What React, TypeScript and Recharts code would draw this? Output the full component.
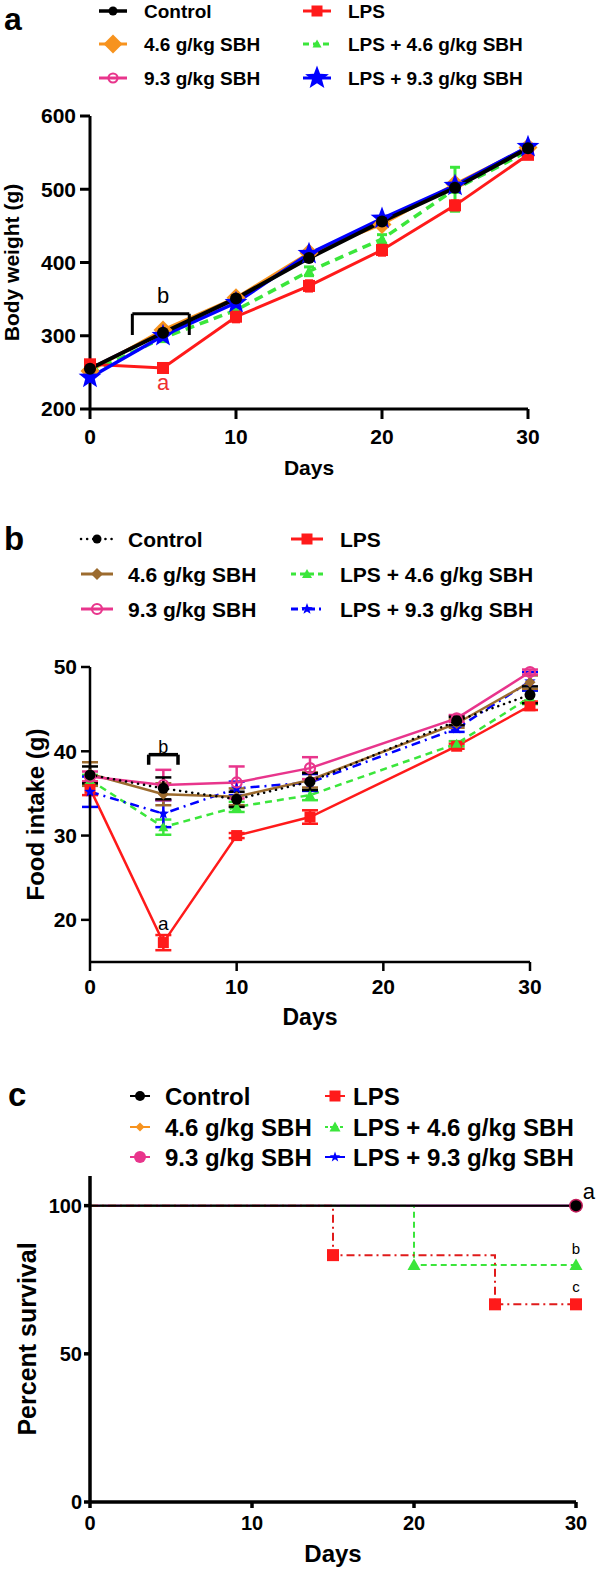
import React from "react";
import { LineChart, Line, XAxis, YAxis, ErrorBar, ReferenceLine, ReferenceDot } from "recharts";

const FONT = "'Liberation Sans', Arial, Helvetica, sans-serif";

// ---- panel a: body weight (g) ----
const weightDays = [0, 5, 10, 15, 20, 25, 30];
const bwControl = [255, 304, 351, 406, 456, 502, 556];
const bwLps = [261, 256, 326, 368, 417, 478, 547];
const bwSbh46 = [252, 308, 352, 413, 452, 507, 557];
const bwSbh93 = [255, 305, 350, 410, 455, 505, 558];
const bwLpsSbh46 = [250, 297, 335, 388, 432, 500, 552];
const bwLpsSbh93 = [243, 300, 345, 412, 460, 505, 558];
const bwErrLps = [4, 4, 7, 7, 7, 6, 4];
const bwErrLpsSbh46 = [4, 5, 5, 6, 6, 30, 5];
const weightTicks = [200, 300, 400, 500, 600];

// ---- panel b: food intake (g) ----
const intakeDays = [0, 5, 10, 15, 25, 30];
const fiControl = [37.2, 35.6, 34.3, 36.4, 43.6, 46.7];
const fiLps = [35.6, 17.3, 30.0, 32.2, 40.6, 45.4];
const fiSbh46 = [37.3, 34.9, 34.6, 36.6, 43.3, 48.2];
const fiSbh93 = [37.0, 36.0, 36.3, 38.0, 43.9, 49.4];
const fiLpsSbh46 = [36.6, 31.0, 33.4, 34.8, 40.9, 46.4];
const fiLpsSbh93 = [35.2, 32.6, 35.6, 36.3, 42.7, 48.3];
const fiErrControl = [1.0, 1.3, 0.9, 1.0, 0.5, 1.0];
const fiErrLps = [0.8, 0.9, 0.3, 0.8, 0.3, 0.5];
const fiErrSbh46 = [1.4, 1.3, 1.0, 0.9, 0.5, 0.8];
const fiErrSbh93 = [0.6, 1.8, 1.9, 1.3, 0.4, 0.3];
const fiErrLpsSbh46 = [0.6, 0.9, 0.6, 0.6, 0.3, 0.8];
const fiErrLpsSbh93 = [1.8, 1.6, 0.8, 1.0, 0.4, 1.1];
const intakeTicks = [20, 30, 40, 50];

// ---- panel c: percent survival ----
const survFullDays = [0, 30];
const survFull = [100, 100];
const survLpsDays = [0, 15, 25, 30];
const survLps = [100, 83.3, 66.7, 66.7];
const survLpsSbh46Days = [0, 20, 30];
const survLpsSbh46 = [100, 80, 80];
const survivalTicks = [0, 50, 100];

const dayTicks = [0, 10, 20, 30];

const rows = (xs: number[], ys: number[], es?: number[]) =>
  xs.map((d, i) => ({ day: d, v: ys[i], e: es ? es[i] : 0 }));

type Shape = "circle" | "ring" | "square" | "diamond" | "triangle" | "star";

function starPoints(cx: number, cy: number, R: number) {
  const pts: string[] = [];
  for (let i = 0; i < 10; i++) {
    const r = i % 2 === 0 ? R : R * 0.42;
    const a = -Math.PI / 2 + (i * Math.PI) / 5;
    pts.push(`${cx + r * Math.cos(a)},${cy + r * Math.sin(a)}`);
  }
  return pts.join(" ");
}

function Marker({ shape, cx, cy, size, color }: { shape: Shape; cx: number; cy: number; size: number; color: string }) {
  const h = size / 2;
  switch (shape) {
    case "circle":
      return <circle cx={cx} cy={cy} r={h} fill={color} />;
    case "ring":
      return <circle cx={cx} cy={cy} r={h - 1} fill="none" stroke={color} strokeWidth={2.2} />;
    case "square":
      return <rect x={cx - h} y={cy - h} width={size} height={size} fill={color} />;
    case "diamond":
      return <polygon points={`${cx},${cy - h} ${cx + h},${cy} ${cx},${cy + h} ${cx - h},${cy}`} fill={color} />;
    case "triangle":
      return <polygon points={`${cx},${cy - h} ${cx + h},${cy + h * 0.8} ${cx - h},${cy + h * 0.8}`} fill={color} />;
    default:
      return <polygon points={starPoints(cx, cy, h)} fill={color} />;
  }
}

const dotOf = (shape: Shape, size: number, color: string, skipFirst = false) => (p: any) => {
  if ((skipFirst && p.index === 0) || p.cx == null || p.cy == null) return <g key={p.index} />;
  return (
    <g key={p.index}>
      <Marker shape={shape} cx={p.cx} cy={p.cy} size={size} color={color} />
    </g>
  );
};

const xTitle = (text: string, dy: number, size: number) => (props: any) => {
  const vb = props.viewBox || {};
  return (
    <text x={vb.x + vb.width / 2} y={vb.y + dy} textAnchor="middle" fontSize={size} fontWeight="bold" fontFamily={FONT} fill="#000">
      {text}
    </text>
  );
};

const yTitle = (text: string, cx: number, size: number) => (props: any) => {
  const vb = props.viewBox || {};
  const cy = vb.y + vb.height / 2;
  return (
    <text x={cx} y={cy} transform={`rotate(-90 ${cx} ${cy})`} textAnchor="middle" dominantBaseline="central" fontSize={size} fontWeight="bold" fontFamily={FONT} fill="#000">
      {text}
    </text>
  );
};

const tickStyle = (size: number) => ({ fill: "#000", fontSize: size, fontWeight: "bold", fontFamily: FONT });

const C = {
  black: "#000000",
  red: "#FF1A1A",
  orange: "#F7931E",
  pink: "#E8358C",
  green: "#3BE63B",
  blue: "#0000FF",
  brown: "#9C6B2E",
  darkRed: "#E01B1B",
};

type Entry = { text: string; color: string; shape: Shape; size: number; dash?: string; lw: number };

const legendA: Entry[] = [
  { text: "Control", color: C.black, shape: "circle", size: 9, lw: 3.5 },
  { text: "LPS", color: C.red, shape: "square", size: 11, lw: 3 },
  { text: "4.6 g/kg SBH", color: C.orange, shape: "diamond", size: 19, lw: 3 },
  { text: "LPS + 4.6 g/kg SBH", color: C.green, shape: "triangle", size: 9, dash: "6 4", lw: 3 },
  { text: "9.3 g/kg SBH", color: C.pink, shape: "ring", size: 11, lw: 3 },
  { text: "LPS + 9.3 g/kg SBH", color: C.blue, shape: "star", size: 25, lw: 3 },
];
const legendB: Entry[] = [
  { text: "Control", color: C.black, shape: "circle", size: 9, dash: "0.1 6", lw: 2.5 },
  { text: "LPS", color: C.red, shape: "square", size: 11, lw: 3 },
  { text: "4.6 g/kg SBH", color: C.brown, shape: "diamond", size: 12, lw: 3 },
  { text: "LPS + 4.6 g/kg SBH", color: C.green, shape: "triangle", size: 10, dash: "5 4", lw: 3 },
  { text: "9.3 g/kg SBH", color: C.pink, shape: "ring", size: 12, lw: 3 },
  { text: "LPS + 9.3 g/kg SBH", color: C.blue, shape: "star", size: 12, dash: "7 4 2 4", lw: 3 },
];
const legendC: Entry[] = [
  { text: "Control", color: C.black, shape: "circle", size: 10, lw: 2 },
  { text: "LPS", color: C.red, shape: "square", size: 11, lw: 2 },
  { text: "4.6 g/kg SBH", color: C.orange, shape: "diamond", size: 9, lw: 2 },
  { text: "LPS + 4.6 g/kg SBH", color: C.green, shape: "triangle", size: 11, dash: "3 2", lw: 2 },
  { text: "9.3 g/kg SBH", color: C.pink, shape: "circle", size: 12, lw: 2 },
  { text: "LPS + 9.3 g/kg SBH", color: C.blue, shape: "star", size: 11, lw: 2 },
];

function Legend({ entries, cols, rowsY, textX, half, fontSize }: { entries: Entry[]; cols: number[]; rowsY: number[]; textX: number[]; half: number; fontSize: number }) {
  return (
    <g>
      {entries.map((e, i) => {
        const c = i % 2;
        const r = Math.floor(i / 2);
        const cx = cols[c];
        const cy = rowsY[r];
        return (
          <g key={e.text}>
            <line x1={cx - half} y1={cy} x2={cx + half} y2={cy} stroke={e.color} strokeWidth={e.lw} strokeDasharray={e.dash} strokeLinecap={e.dash === "0.1 6" ? "round" : "butt"} />
            <Marker shape={e.shape} cx={cx} cy={cy} size={e.size} color={e.color} />
            <text x={textX[c]} y={cy + fontSize * 0.36} fontSize={fontSize} fontWeight="bold" fontFamily={FONT} fill="#000">
              {e.text}
            </text>
          </g>
        );
      })}
    </g>
  );
}

function PanelA() {
  const axis = { stroke: "#000", strokeWidth: 3 };
  return (
    <LineChart width={596} height={490} margin={{ top: 116, right: 68, bottom: 0, left: 0 }}>
      <XAxis type="number" dataKey="day" domain={[0, 30]} ticks={dayTicks} height={81} tickSize={10} tickMargin={10} axisLine={axis} tickLine={axis} tick={tickStyle(21)} label={xTitle("Days", 66, 21)} />
      <YAxis type="number" domain={[200, 600]} ticks={weightTicks} width={90} tickSize={10} tickMargin={4} axisLine={axis} tickLine={axis} tick={tickStyle(21)} label={yTitle("Body weight (g)", 11, 21)} />
      <Line data={rows(weightDays, bwSbh93)} dataKey="v" stroke={C.pink} strokeWidth={3} dot={dotOf("ring", 12, C.pink)} isAnimationActive={false} />
      <Line data={rows(weightDays, bwSbh46)} dataKey="v" stroke={C.orange} strokeWidth={3} dot={dotOf("diamond", 19, C.orange)} isAnimationActive={false} />
      <Line data={rows(weightDays, bwLpsSbh46, bwErrLpsSbh46)} dataKey="v" stroke={C.green} strokeWidth={3.5} strokeDasharray="9 6" dot={dotOf("triangle", 11, C.green)} isAnimationActive={false}>
        <ErrorBar dataKey="e" width={5} strokeWidth={3} stroke={C.green} direction="y" isAnimationActive={false} />
      </Line>
      <Line data={rows(weightDays, bwLps, bwErrLps)} dataKey="v" stroke={C.red} strokeWidth={3} dot={dotOf("square", 12, C.red)} isAnimationActive={false}>
        <ErrorBar dataKey="e" width={4} strokeWidth={3} stroke={C.red} direction="y" isAnimationActive={false} />
      </Line>
      <Line data={rows(weightDays, bwLpsSbh93)} dataKey="v" stroke={C.blue} strokeWidth={3.5} dot={dotOf("star", 24, C.blue)} isAnimationActive={false} />
      <Line data={rows(weightDays, bwControl)} dataKey="v" stroke={C.black} strokeWidth={4} dot={dotOf("circle", 12, C.black)} isAnimationActive={false} />
      <ReferenceLine segment={[{ x: 2.9, y: 301 }, { x: 2.9, y: 330 }]} stroke="#000" strokeWidth={3} ifOverflow="visible" />
      <ReferenceLine segment={[{ x: 2.9, y: 330 }, { x: 6.8, y: 330 }]} stroke="#000" strokeWidth={3} ifOverflow="visible" />
      <ReferenceLine segment={[{ x: 6.8, y: 330 }, { x: 6.8, y: 301 }]} stroke="#000" strokeWidth={3} ifOverflow="visible" />
      <ReferenceDot x={5} y={356} r={0} ifOverflow="visible" label={{ value: "b", position: "center", fontSize: 22, fill: "#000", fontFamily: FONT }} />
      <ReferenceDot x={5} y={236} r={0} ifOverflow="visible" label={{ value: "a", position: "center", fontSize: 22, fill: "#EE3030", fontFamily: FONT }} />
    </LineChart>
  );
}

function PanelB() {
  const axis = { stroke: "#000", strokeWidth: 2.5 };
  return (
    <LineChart width={596} height={550} margin={{ top: 177, right: 66, bottom: 0, left: 0 }}>
      <XAxis type="number" dataKey="day" domain={[0, 30]} ticks={dayTicks} height={78} tickSize={9} tickMargin={8} axisLine={axis} tickLine={axis} tick={tickStyle(21)} label={xTitle("Days", 63, 23)} />
      <YAxis type="number" domain={[15, 50]} ticks={intakeTicks} width={90} tickSize={9} tickMargin={4} axisLine={axis} tickLine={axis} tick={tickStyle(21)} label={yTitle("Food intake (g)", 35, 24)} />
      <Line data={rows(intakeDays, fiLps, fiErrLps)} dataKey="v" stroke={C.red} strokeWidth={2.5} dot={dotOf("square", 11, C.red)} isAnimationActive={false}>
        <ErrorBar dataKey="e" width={8} strokeWidth={2.5} stroke={C.red} direction="y" isAnimationActive={false} />
      </Line>
      <Line data={rows(intakeDays, fiLpsSbh46, fiErrLpsSbh46)} dataKey="v" stroke={C.green} strokeWidth={2.5} strokeDasharray="7 5" dot={dotOf("triangle", 10, C.green)} isAnimationActive={false}>
        <ErrorBar dataKey="e" width={8} strokeWidth={2.5} stroke={C.green} direction="y" isAnimationActive={false} />
      </Line>
      <Line data={rows(intakeDays, fiLpsSbh93, fiErrLpsSbh93)} dataKey="v" stroke={C.blue} strokeWidth={2.5} strokeDasharray="9 5 2 5" dot={dotOf("star", 12, C.blue)} isAnimationActive={false}>
        <ErrorBar dataKey="e" width={8} strokeWidth={2.5} stroke={C.blue} direction="y" isAnimationActive={false} />
      </Line>
      <Line data={rows(intakeDays, fiSbh46, fiErrSbh46)} dataKey="v" stroke={C.brown} strokeWidth={2.5} dot={dotOf("diamond", 11, C.brown)} isAnimationActive={false}>
        <ErrorBar dataKey="e" width={8} strokeWidth={2.5} stroke={C.brown} direction="y" isAnimationActive={false} />
      </Line>
      <Line data={rows(intakeDays, fiSbh93, fiErrSbh93)} dataKey="v" stroke={C.pink} strokeWidth={2.5} dot={dotOf("ring", 12, C.pink)} isAnimationActive={false}>
        <ErrorBar dataKey="e" width={8} strokeWidth={2.5} stroke={C.pink} direction="y" isAnimationActive={false} />
      </Line>
      <Line data={rows(intakeDays, fiControl, fiErrControl)} dataKey="v" stroke={C.black} strokeWidth={2.5} strokeDasharray="0.1 6" strokeLinecap="round" dot={dotOf("circle", 11, C.black)} isAnimationActive={false}>
        <ErrorBar dataKey="e" width={8} strokeWidth={2.5} stroke={C.black} direction="y" isAnimationActive={false} />
      </Line>
      <ReferenceLine segment={[{ x: 4, y: 38.4 }, { x: 4, y: 39.6 }]} stroke="#000" strokeWidth={3.5} ifOverflow="visible" />
      <ReferenceLine segment={[{ x: 4, y: 39.6 }, { x: 6, y: 39.6 }]} stroke="#000" strokeWidth={3.5} ifOverflow="visible" />
      <ReferenceLine segment={[{ x: 6, y: 39.6 }, { x: 6, y: 38.4 }]} stroke="#000" strokeWidth={3.5} ifOverflow="visible" />
      <ReferenceDot x={5} y={40.5} r={0} ifOverflow="visible" label={{ value: "b", position: "center", fontSize: 18, fill: "#000", fontFamily: FONT }} />
      <ReferenceDot x={5} y={19.6} r={0} ifOverflow="visible" label={{ value: "a", position: "center", fontSize: 19, fill: "#000", fontFamily: FONT }} />
    </LineChart>
  );
}

function PanelC() {
  const axis = { stroke: "#000", strokeWidth: 3.5 };
  return (
    <LineChart width={596} height={531} margin={{ top: 136, right: 20, bottom: 0, left: 0 }}>
      <XAxis type="number" dataKey="day" domain={[0, 30]} ticks={dayTicks} height={69} tickSize={6} tickMargin={8} axisLine={axis} tickLine={axis} tick={tickStyle(20)} label={xTitle("Days", 60, 24)} />
      <YAxis type="number" domain={[0, 110]} ticks={survivalTicks} width={90} tickSize={6} tickMargin={2} axisLine={axis} tickLine={axis} tick={tickStyle(20)} label={yTitle("Percent survival", 27, 25)} />
      <Line type="stepAfter" data={rows(survFullDays, survFull)} dataKey="v" stroke={C.orange} strokeWidth={2} dot={dotOf("diamond", 9, C.orange, true)} isAnimationActive={false} />
      <Line type="stepAfter" data={rows(survFullDays, survFull)} dataKey="v" stroke={C.blue} strokeWidth={2} dot={dotOf("star", 11, C.blue, true)} isAnimationActive={false} />
      <Line type="stepAfter" data={rows(survFullDays, survFull)} dataKey="v" stroke={C.pink} strokeWidth={2} dot={dotOf("circle", 14, "#C21B5A", true)} isAnimationActive={false} />
      <Line type="stepAfter" data={rows(survLpsSbh46Days, survLpsSbh46)} dataKey="v" stroke={C.green} strokeWidth={2} strokeDasharray="6 4" dot={dotOf("triangle", 13, C.green, true)} isAnimationActive={false} />
      <Line type="stepAfter" data={rows(survLpsDays, survLps)} dataKey="v" stroke={C.darkRed} strokeWidth={2} strokeDasharray="8 4 2 4" dot={dotOf("square", 12, C.red, true)} isAnimationActive={false} />
      <Line type="stepAfter" data={rows(survFullDays, survFull)} dataKey="v" stroke={C.black} strokeWidth={2} dot={dotOf("circle", 11, C.black, true)} isAnimationActive={false} />
      <ReferenceDot x={30.8} y={105} r={0} ifOverflow="visible" label={{ value: "a", position: "center", fontSize: 22, fill: "#000", fontFamily: FONT }} />
      <ReferenceDot x={30} y={85.5} r={0} ifOverflow="visible" label={{ value: "b", position: "center", fontSize: 15, fill: "#000", fontFamily: FONT }} />
      <ReferenceDot x={30} y={72.8} r={0} ifOverflow="visible" label={{ value: "c", position: "center", fontSize: 15, fill: "#000", fontFamily: FONT }} />
    </LineChart>
  );
}

export default function App() {
  return (
    <div style={{ position: "absolute", left: 0, top: 0, width: 596, height: 1571, background: "#fff", fontFamily: FONT }}>
      <div style={{ position: "absolute", left: 0, top: 0 }}>
        <PanelA />
      </div>
      <div style={{ position: "absolute", left: 0, top: 490 }}>
        <PanelB />
      </div>
      <div style={{ position: "absolute", left: 0, top: 1040 }}>
        <PanelC />
      </div>
      <svg width={596} height={1571} style={{ position: "absolute", left: 0, top: 0, pointerEvents: "none" }}>
        <text x={4} y={30} fontSize={32} fontWeight="bold" fontFamily={FONT} fill="#000">a</text>
        <text x={4} y={550} fontSize={33} fontWeight="bold" fontFamily={FONT} fill="#000">b</text>
        <text x={8} y={1106} fontSize={33} fontWeight="bold" fontFamily={FONT} fill="#000">c</text>
        <Legend entries={legendA} cols={[113, 317]} rowsY={[11, 44, 78]} textX={[144, 348]} half={14} fontSize={19} />
        <Legend entries={legendB} cols={[97, 307]} rowsY={[539, 574, 609]} textX={[128, 340]} half={16} fontSize={21} />
        <Legend entries={legendC} cols={[140, 335]} rowsY={[1096, 1127, 1157]} textX={[165, 353]} half={10} fontSize={24} />
      </svg>
    </div>
  );
}
